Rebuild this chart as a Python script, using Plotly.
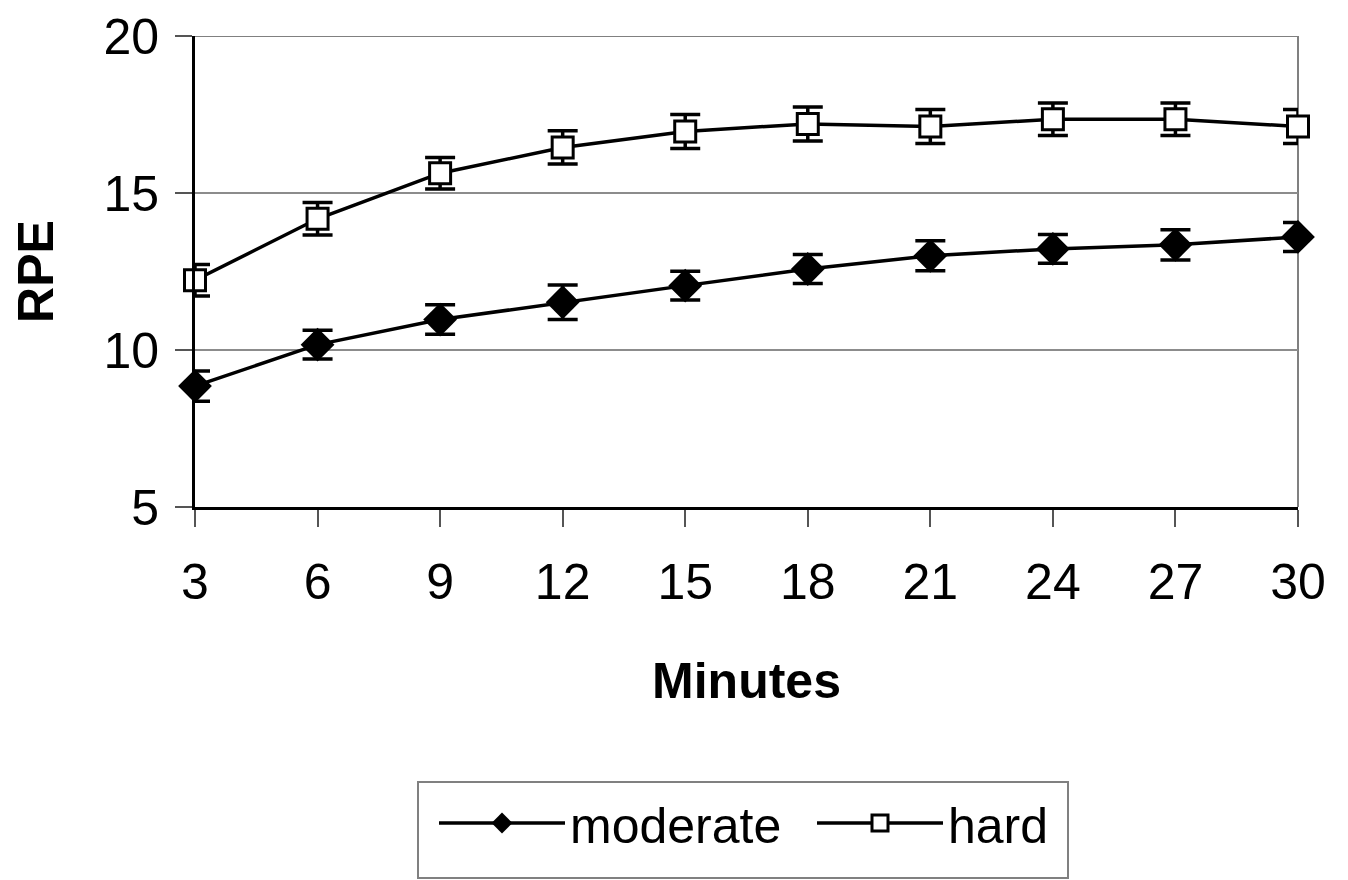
import plotly.graph_objects as go

minutes = [3, 6, 9, 12, 15, 18, 21, 24, 27, 30]
moderate = [8.85, 10.17, 10.97, 11.52, 12.05, 12.58, 13.0, 13.22, 13.35, 13.6]
moderate_err = [0.48, 0.46, 0.47, 0.55, 0.46, 0.46, 0.48, 0.46, 0.48, 0.46]
hard = [12.22, 14.18, 15.63, 16.45, 16.96, 17.2, 17.12, 17.35, 17.35, 17.12]
hard_err = [0.5, 0.52, 0.5, 0.53, 0.54, 0.54, 0.54, 0.52, 0.52, 0.54]

FONT = "Liberation Sans, Arial, sans-serif"

fig = go.Figure()
fig.add_trace(go.Scatter(
    x=minutes, y=moderate, name="moderate", mode="lines+markers",
    line=dict(color="black", width=3.5),
    marker=dict(symbol="diamond", size=26, color="black"),
    error_y=dict(type="data", array=moderate_err, visible=True, color="black", thickness=3.5, width=15),
    cliponaxis=False,
))
fig.add_trace(go.Scatter(
    x=minutes, y=hard, name="hard", mode="lines+markers",
    line=dict(color="black", width=3.5),
    marker=dict(symbol="square", size=21, color="white", line=dict(color="black", width=3)),
    error_y=dict(type="data", array=hard_err, visible=True, color="black", thickness=3.5, width=15),
    cliponaxis=False,
))

PW = 1103
PH = 471
BOT = 507  # screen y of plot bottom
fig.update_layout(
    width=1348, height=880,
    margin=dict(l=187, r=58, t=28, b=381, autoexpand=False),
    paper_bgcolor="white", plot_bgcolor="white",
    font=dict(family=FONT, color="black"),
    showlegend=True,
    legend=dict(
        orientation="h", x=(434 - 195) / PW, xanchor="left", y=-316 / PH, yanchor="middle",
        font=dict(size=50, family=FONT), borderwidth=0,
        itemwidth=126, entrywidth=237, entrywidthmode="pixels",
        bgcolor="rgba(0,0,0,0)",
    ),
    xaxis=dict(
        range=[3, 30], tickvals=minutes, ticktext=[str(m) for m in minutes],
        showline=True, linecolor="black", linewidth=3,
        ticks="outside", ticklen=17, tickwidth=2, tickcolor="#555555",
        showgrid=False, zeroline=False, ticklabeloverflow="allow",
        tickfont=dict(size=50, family=FONT), ticklabelstandoff=12,
        title=dict(text="<b>Minutes</b>", font=dict(size=50, family=FONT), standoff=54),
    ),
    yaxis=dict(
        range=[5, 20], tickvals=[5, 10, 15, 20],
        showline=True, linecolor="black", linewidth=3,
        ticks="outside", ticklen=17, tickwidth=2, tickcolor="#555555",
        showgrid=True, gridcolor="#8c8c8c", gridwidth=2, zeroline=False,
        ticklabeloverflow="allow",
        tickfont=dict(size=50, family=FONT), ticklabelstandoff=6,
        title=dict(text="<b>RPE</b>", font=dict(size=50, family=FONT), standoff=35),
    ),
)
# right border of plot area and top gridline
fig.add_shape(type="line", xref="paper", yref="paper", x0=1, x1=1, y0=0, y1=1,
              line=dict(color="#808080", width=2), layer="below")
fig.add_shape(type="line", xref="paper", yref="y", x0=-17 / PW, x1=1, y0=20, y1=20,
              line=dict(color="#808080", width=2), layer="below")
# legend frame
fig.add_shape(type="rect", xref="paper", yref="paper",
              x0=(418 - 195) / PW, x1=(1068 - 195) / PW,
              y0=(BOT - 878) / PH, y1=(BOT - 782) / PH,
              line=dict(color="#808080", width=2), fillcolor="rgba(0,0,0,0)")

fig.write_html("out.html")
